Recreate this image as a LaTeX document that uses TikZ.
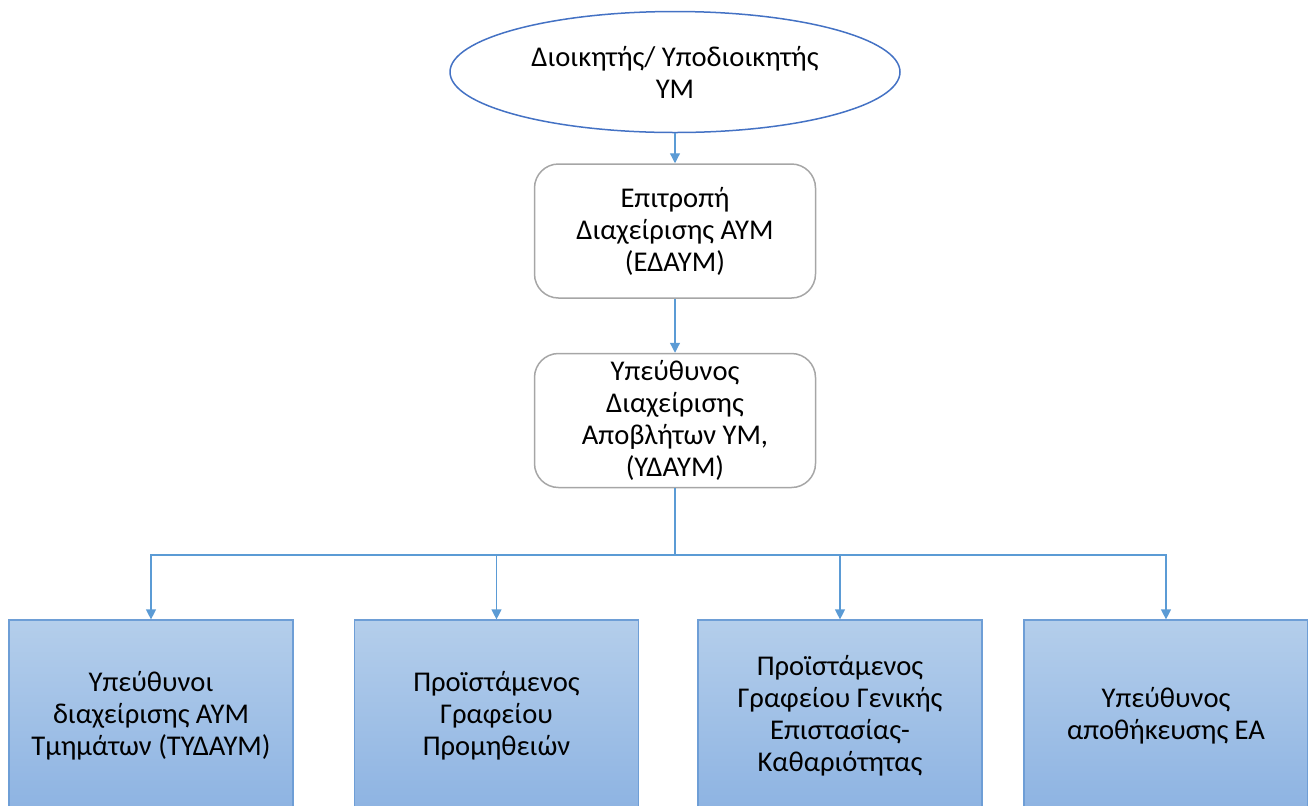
\documentclass[tikz,border=0pt]{standalone}
\usepackage{fontspec}
\setmainfont{Carlito}
\usetikzlibrary{shapes.geometric,arrows.meta}
\definecolor{linecol}{HTML}{5B9BD5}
\definecolor{ellcol}{HTML}{4472C4}
\definecolor{graycol}{HTML}{A6A6A6}
\definecolor{boxtop}{HTML}{B4CEEB}
\definecolor{boxbot}{HTML}{8DB3E2}
\definecolor{boxline}{HTML}{6E9ED6}

\begin{document}
\begin{tikzpicture}[x=0.5pt,y=-0.5pt,
	font=\fontsize{14.3}{16}\selectfont,
	line/.style={draw=linecol,line width=0.6pt},
	arr/.style={line,-{Triangle[width=5pt,length=5pt]}},
	head/.style={ellipse,draw=ellcol,line width=0.75pt,minimum width=225pt,minimum height=60.5pt,inner sep=0pt,align=center},
	rbox/.style={rectangle,rounded corners=12pt,draw=graycol,line width=0.75pt,minimum width=140.5pt,minimum height=67pt,inner sep=0pt,align=center},
	bbox/.style={rectangle,draw=boxline,line width=0.6pt,top color=boxtop,bottom color=boxbot,minimum width=142pt,minimum height=96pt,inner sep=0pt,align=center}]
	\useasboundingbox (0,0) rectangle (1308,805);
	\clip (0,0) rectangle (1308,805);

	\node[head](d) at (675,72) {Διοικητής/ Υποδιοικητής\\ΥΜ};
	\node[rbox](e) at (675,231) {Επιτροπή\\Διαχείρισης ΑΥΜ\\(ΕΔΑΥΜ)};
	\node[rbox](y) at (675,420.5) {Υπεύθυνος\\Διαχείρισης\\Αποβλήτων ΥΜ,\\(ΥΔΑΥΜ)};

	\node[bbox](t1) at (151,716) {Υπεύθυνοι\\διαχείρισης ΑΥΜ\\Τμημάτων (ΤΥΔΑΥΜ)};
	\node[bbox](t2) at (496.5,716) {Προϊστάμενος\\Γραφείου\\Προμηθειών};
	\node[bbox](t3) at (840,716) {Προϊστάμενος\\Γραφείου Γενικής\\Επιστασίας-\\Καθαριότητας};
	\node[bbox](t4) at (1166,716) {Υπεύθυνος\\αποθήκευσης ΕΑ};

	\coordinate(j) at (675,555);

	\draw[arr](d) -- (e);
	\draw[arr](e) -- (y);
	\draw[line](y) -- (j);
	\draw[arr](j) -| (t1);
	\draw[arr](j) -| (t2);
	\draw[arr](j) -| (t3);
	\draw[arr](j) -| (t4);
\end{tikzpicture}
\end{document}
